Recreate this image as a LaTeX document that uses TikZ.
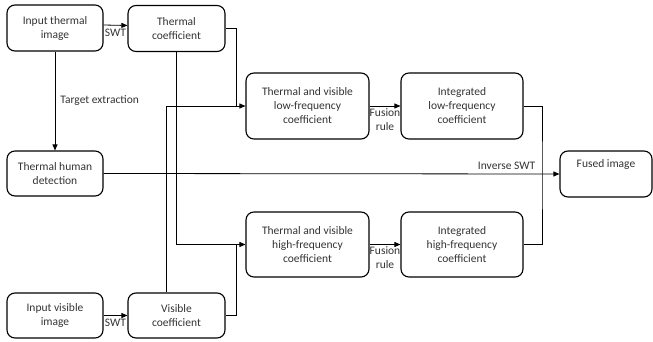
\documentclass[tikz,border=0pt]{standalone}
\usepackage{fontspec}
\setmainfont{Carlito}
\usetikzlibrary{arrows.meta}
\tikzset{
  box/.style={draw, rounded corners=8pt, line width=1.1pt, align=center, inner sep=0pt,
    text=black!80, font=\fontsize{11.5}{14}\selectfont},
  lbl/.style={text=black!80, inner sep=1pt, align=center, font=\fontsize{11.5}{14}\selectfont}
}
\begin{document}
\begin{tikzpicture}[x=1pt,y=-1pt,line width=0.8pt,>={Triangle[length=6pt,width=5pt]}]
    \useasboundingbox (0,0) rectangle (653,342);
    % Input images and SWT coefficients
    \node[box,minimum width=96pt,minimum height=46pt] (tin) at (55,28) {Input thermal\\image};
    \node[box,minimum width=97pt,minimum height=46pt] (tcoef) at (176.5,28.5) {Thermal\\coefficient};
    \node[box,minimum width=96pt,minimum height=45pt] (vin) at (55,315.5) {Input visible\\image};
    \node[box,minimum width=97pt,minimum height=45pt] (vcoef) at (176.5,315.5) {Visible\\coefficient};
    \node[box,minimum width=96pt,minimum height=45pt] (detect) at (55,173.5) {Thermal human\\detection};
    
    % Low and high frequency parts
    \node[box,minimum width=123pt,minimum height=66pt] (low) at (307.5,106) {Thermal and visible\\low-frequency\\coefficient};
    \node[box,minimum width=122pt,minimum height=66pt] (intlow) at (462,106) {Integrated\\low-frequency\\coefficient};
    \node[box,minimum width=123pt,minimum height=65pt] (high) at (307.5,244.5) {Thermal and visible\\high-frequency\\coefficient};
    \node[box,minimum width=122pt,minimum height=65pt] (inthigh) at (462,244.5) {Integrated\\high-frequency\\coefficient};
    
    % Output
    \node[box,minimum width=92pt,minimum height=46pt] (fused) at (606,174) {Fused image\\[6pt]\mbox{}};
    
    % Junction points
    \coordinate (jlow) at (236,106);
    \coordinate (jhigh) at (236,244.5);
    \coordinate (jout) at (542,175);
    
    % SWT arrows
    \draw[->] ([yshift=3pt]tin.east) -- ([yshift=3pt]tcoef.west) node[lbl,midway,below=2pt] {SWT};
    \draw[->] (vin.east) -- (vcoef.west) node[lbl,midway,below=2pt] {SWT};
    \draw[->] (tin.south) -- (detect.north) node[lbl,midway,right=4pt] {Target extraction};
    
    % Coefficients into the fusion boxes
    \draw[->] (tcoef.east) -| (jlow) -- (low.west);
    \draw ([xshift=-10.5pt]vcoef.north) |- (jlow);
    \draw (tcoef.south) |- (jhigh);
    \draw[->] (vcoef.east) -| (jhigh) -- (high.west);
    
    % Fusion rule
    \draw[->] (low.east) -- (intlow.west) node[lbl,midway,below=1pt] {Fusion\\rule};
    \draw[->] (high.east) -- (inthigh.west) node[lbl,midway,below=1pt] {Fusion\\rule};
    
    % Inverse SWT
    \draw (intlow.east) -| (jout) |- (inthigh.east);
    \draw[->] (detect.east) -- (fused.west) node[lbl,pos=0.884,above=3pt] {Inverse SWT};
\end{tikzpicture}
\end{document}
